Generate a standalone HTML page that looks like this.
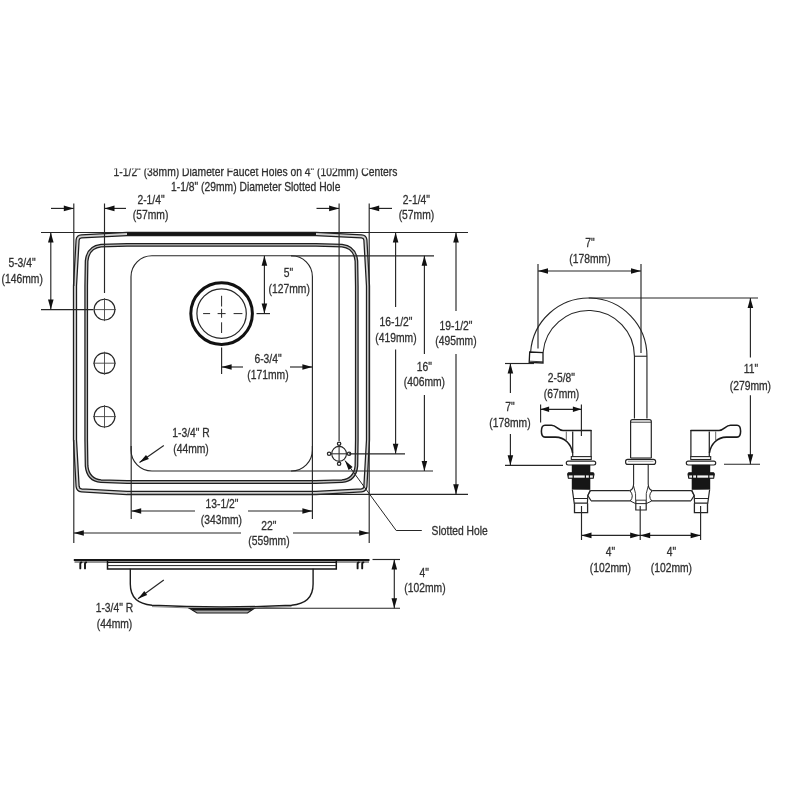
<!DOCTYPE html>
<html lang="en">
<head>
<meta charset="utf-8">
<title>Sink and faucet dimension drawing</title>
<style>
html,body{margin:0;padding:0;background:#fff;}
body{width:800px;height:800px;overflow:hidden;}
svg{display:block;}
svg text{font-family:"Liberation Sans",sans-serif;fill:#303030;stroke:#303030;stroke-width:0.3px;}
</style>
</head>
<body>
<svg width="800" height="800" viewBox="0 0 800 800" style="filter:grayscale(1)">
<defs><clipPath id="cliptop"><rect x="0" y="168.6" width="800" height="40"/></clipPath></defs>
<rect width="800" height="800" fill="#ffffff"/>
<g clip-path="url(#cliptop)">
<text transform="translate(113.6,175.5) scale(0.84,1)" text-anchor="start" font-size="12.3">1-1/2&quot; (38mm) Diameter Faucet Holes on 4&quot; (102mm) Centers</text>
</g>
<text transform="translate(171,191.1) scale(0.84,1)" text-anchor="start" font-size="12.3">1-1/8&quot; (29mm) Diameter Slotted Hole</text>
<path d="M75,286 L75,440 L77.6,486.5 Q78,490 81.5,490.4 L127,493 L316,493 L361.5,490.4 Q365,490 365.4,486.5 L368,440 L368,286 L365.4,240 Q365,236.6 361.5,236.4 L316,234 L127,234 L81.5,236.4 Q78,236.6 77.6,240 Z" fill="none" stroke="#1e1e1e" stroke-width="4.3" stroke-linejoin="round"/>
<path d="M75,286 L75,440 L77.6,486.5 Q78,490 81.5,490.4 L127,493 L316,493 L361.5,490.4 Q365,490 365.4,486.5 L368,440 L368,286 L365.4,240 Q365,236.6 361.5,236.4 L316,234 L127,234 L81.5,236.4 Q78,236.6 77.6,240 Z" fill="none" stroke="#d0d0d0" stroke-width="1.8" stroke-linejoin="round"/>
<line x1="127" y1="234" x2="316" y2="234" stroke="#151515" stroke-width="2.6" />
<path d="M86.2,286 L86.2,440 L86.6,466 Q88,480 101,481.2 L127,482 L316,482 L342,481.2 Q355,480 356.4,466 L356.8,440 L356.8,286 L356.4,261 Q355,247 342,245.6 L316,244.8 L127,244.8 L101,245.6 Q88,247 86.6,261 Z" fill="none" stroke="#1e1e1e" stroke-width="3.8" stroke-linejoin="round"/>
<path d="M86.2,286 L86.2,440 L86.6,466 Q88,480 101,481.2 L127,482 L316,482 L342,481.2 Q355,480 356.4,466 L356.8,440 L356.8,286 L356.4,261 Q355,247 342,245.6 L316,244.8 L127,244.8 L101,245.6 Q88,247 86.6,261 Z" fill="none" stroke="#bcbcbc" stroke-width="1.3" stroke-linejoin="round"/>
<rect x="131" y="255.7" width="181.4" height="215.3" rx="21" ry="21" fill="none" stroke="#262626" stroke-width="1.15"/>
<circle cx="221.6" cy="313.6" r="30.8" fill="none" stroke="#111" stroke-width="3"/>
<circle cx="221.6" cy="313.6" r="24.7" fill="none" stroke="#262626" stroke-width="1.2"/>
<line x1="203.1" y1="313.6" x2="210.1" y2="313.6" stroke="#262626" stroke-width="1.0" />
<line x1="217.6" y1="313.6" x2="225.6" y2="313.6" stroke="#262626" stroke-width="1.0" />
<line x1="233.6" y1="313.6" x2="242.4" y2="313.6" stroke="#262626" stroke-width="1.0" />
<line x1="221.6" y1="295.8" x2="221.6" y2="306.5" stroke="#262626" stroke-width="1.0" />
<line x1="221.6" y1="308.8" x2="221.6" y2="317.8" stroke="#262626" stroke-width="1.0" />
<line x1="221.6" y1="322.3" x2="221.6" y2="333.0" stroke="#262626" stroke-width="1.0" />
<circle cx="104.5" cy="309.6" r="10.4" fill="none" stroke="#262626" stroke-width="1.15"/>
<line x1="104.5" y1="298.1" x2="104.5" y2="321.1" stroke="#444" stroke-width="0.9" />
<line x1="93" y1="309.6" x2="116" y2="309.6" stroke="#444" stroke-width="0.9" />
<circle cx="104.5" cy="363.2" r="10.4" fill="none" stroke="#262626" stroke-width="1.15"/>
<line x1="104.5" y1="351.7" x2="104.5" y2="374.7" stroke="#444" stroke-width="0.9" />
<line x1="93" y1="363.2" x2="116" y2="363.2" stroke="#444" stroke-width="0.9" />
<circle cx="104.5" cy="416.6" r="10.4" fill="none" stroke="#262626" stroke-width="1.15"/>
<line x1="104.5" y1="405.1" x2="104.5" y2="428.1" stroke="#444" stroke-width="0.9" />
<line x1="93" y1="416.6" x2="116" y2="416.6" stroke="#444" stroke-width="0.9" />
<circle cx="339.1" cy="453.8" r="7.4" fill="none" stroke="#262626" stroke-width="1.1"/>
<circle cx="349.1" cy="453.8" r="1.7" fill="#fff" stroke="#262626" stroke-width="1.25"/>
<circle cx="329.1" cy="453.8" r="1.7" fill="#fff" stroke="#262626" stroke-width="1.25"/>
<circle cx="339.1" cy="463.8" r="1.7" fill="#fff" stroke="#262626" stroke-width="1.25"/>
<circle cx="339.1" cy="443.8" r="1.7" fill="#fff" stroke="#262626" stroke-width="1.25"/>
<line x1="330.1" y1="453.8" x2="348.1" y2="453.8" stroke="#333" stroke-width="1.1" />
<line x1="339.1" y1="444.8" x2="339.1" y2="462.8" stroke="#333" stroke-width="1.1" />
<line x1="73.8" y1="203.5" x2="73.8" y2="286" stroke="#262626" stroke-width="1.15" />
<line x1="73.8" y1="440" x2="73.8" y2="543" stroke="#262626" stroke-width="1.15" />
<line x1="104.5" y1="203.5" x2="104.5" y2="293" stroke="#262626" stroke-width="1.15" />
<line x1="339.1" y1="203.5" x2="339.1" y2="441" stroke="#262626" stroke-width="1.15" />
<line x1="369.2" y1="203.5" x2="369.2" y2="543" stroke="#262626" stroke-width="1.15" />
<line x1="41" y1="232.5" x2="127" y2="232.5" stroke="#262626" stroke-width="1.15" />
<line x1="316" y1="232.5" x2="468" y2="232.5" stroke="#262626" stroke-width="1.15" />
<line x1="41" y1="309.6" x2="93" y2="309.6" stroke="#262626" stroke-width="1.15" />
<line x1="291" y1="255.8" x2="434" y2="255.8" stroke="#262626" stroke-width="1.15" />
<line x1="349" y1="453.8" x2="405" y2="453.8" stroke="#262626" stroke-width="1.15" />
<line x1="291" y1="471" x2="433" y2="471" stroke="#262626" stroke-width="1.15" />
<line x1="127" y1="494.3" x2="468" y2="494.3" stroke="#262626" stroke-width="1.15" />
<line x1="131.2" y1="446" x2="131.2" y2="519" stroke="#262626" stroke-width="1.15" />
<line x1="312.4" y1="446" x2="312.4" y2="519" stroke="#262626" stroke-width="1.15" />
<line x1="256.5" y1="313.6" x2="270" y2="313.6" stroke="#262626" stroke-width="1.15" />
<line x1="221.6" y1="347.6" x2="221.6" y2="374" stroke="#262626" stroke-width="1.15" />
<line x1="51" y1="208.4" x2="73.8" y2="208.4" stroke="#262626" stroke-width="1.15" />
<polygon points="73.80,208.40 63.80,205.60 63.80,211.20" fill="#111"/>
<line x1="104.5" y1="208.4" x2="126" y2="208.4" stroke="#262626" stroke-width="1.15" />
<polygon points="104.50,208.40 114.50,205.60 114.50,211.20" fill="#111"/>
<text transform="translate(151,204.1) scale(0.84,1)" text-anchor="middle" font-size="12.3">2-1/4&quot;</text>
<text transform="translate(150.6,219.1) scale(0.84,1)" text-anchor="middle" font-size="12.3">(57mm)</text>
<line x1="316.5" y1="208.4" x2="339.1" y2="208.4" stroke="#262626" stroke-width="1.15" />
<polygon points="339.10,208.40 329.10,205.60 329.10,211.20" fill="#111"/>
<line x1="369.2" y1="208.4" x2="392" y2="208.4" stroke="#262626" stroke-width="1.15" />
<polygon points="369.20,208.40 379.20,205.60 379.20,211.20" fill="#111"/>
<text transform="translate(416.4,204.3) scale(0.84,1)" text-anchor="middle" font-size="12.3">2-1/4&quot;</text>
<text transform="translate(416.4,219.3) scale(0.84,1)" text-anchor="middle" font-size="12.3">(57mm)</text>
<line x1="50.8" y1="232.5" x2="50.8" y2="309.6" stroke="#262626" stroke-width="1.15" />
<polygon points="50.80,232.50 48.00,242.50 53.60,242.50" fill="#111"/>
<polygon points="50.80,309.60 48.00,299.60 53.60,299.60" fill="#111"/>
<text transform="translate(22,267.3) scale(0.84,1)" text-anchor="middle" font-size="12.3">5-3/4&quot;</text>
<text transform="translate(22.2,282.9) scale(0.84,1)" text-anchor="middle" font-size="12.3">(146mm)</text>
<line x1="264.4" y1="255.8" x2="264.4" y2="313.6" stroke="#262626" stroke-width="1.15" />
<polygon points="264.40,255.80 261.60,265.80 267.20,265.80" fill="#111"/>
<polygon points="264.40,313.60 261.60,303.60 267.20,303.60" fill="#111"/>
<text transform="translate(288.4,276.7) scale(0.84,1)" text-anchor="middle" font-size="12.3">5&quot;</text>
<text transform="translate(289.2,292.7) scale(0.84,1)" text-anchor="middle" font-size="12.3">(127mm)</text>
<line x1="221.6" y1="367" x2="243" y2="367" stroke="#262626" stroke-width="1.15" />
<polygon points="221.60,367.00 231.60,364.20 231.60,369.80" fill="#111"/>
<line x1="290" y1="367" x2="312.4" y2="367" stroke="#262626" stroke-width="1.15" />
<polygon points="312.40,367.00 302.40,364.20 302.40,369.80" fill="#111"/>
<text transform="translate(268,362.7) scale(0.84,1)" text-anchor="middle" font-size="12.3">6-3/4&quot;</text>
<text transform="translate(268,378.7) scale(0.84,1)" text-anchor="middle" font-size="12.3">(171mm)</text>
<line x1="395.6" y1="232.5" x2="395.6" y2="307" stroke="#262626" stroke-width="1.15" />
<polygon points="395.60,232.50 392.80,242.50 398.40,242.50" fill="#111"/>
<line x1="395.6" y1="349.6" x2="395.6" y2="453.8" stroke="#262626" stroke-width="1.15" />
<polygon points="395.60,453.80 392.80,443.80 398.40,443.80" fill="#111"/>
<text transform="translate(396,326.3) scale(0.84,1)" text-anchor="middle" font-size="12.3">16-1/2&quot;</text>
<text transform="translate(396,341.5) scale(0.84,1)" text-anchor="middle" font-size="12.3">(419mm)</text>
<line x1="424.4" y1="255.8" x2="424.4" y2="354" stroke="#262626" stroke-width="1.15" />
<polygon points="424.40,255.80 421.60,265.80 427.20,265.80" fill="#111"/>
<line x1="424.4" y1="395" x2="424.4" y2="471" stroke="#262626" stroke-width="1.15" />
<polygon points="424.40,471.00 421.60,461.00 427.20,461.00" fill="#111"/>
<text transform="translate(424.4,370.7) scale(0.84,1)" text-anchor="middle" font-size="12.3">16&quot;</text>
<text transform="translate(424.4,386.1) scale(0.84,1)" text-anchor="middle" font-size="12.3">(406mm)</text>
<line x1="456" y1="232.5" x2="456" y2="311" stroke="#262626" stroke-width="1.15" />
<polygon points="456.00,232.50 453.20,242.50 458.80,242.50" fill="#111"/>
<line x1="456" y1="354" x2="456" y2="494.3" stroke="#262626" stroke-width="1.15" />
<polygon points="456.00,494.30 453.20,484.30 458.80,484.30" fill="#111"/>
<text transform="translate(456,329.5) scale(0.84,1)" text-anchor="middle" font-size="12.3">19-1/2&quot;</text>
<text transform="translate(456,345.3) scale(0.84,1)" text-anchor="middle" font-size="12.3">(495mm)</text>
<text transform="translate(191,437.3) scale(0.84,1)" text-anchor="middle" font-size="12.3">1-3/4&quot; R</text>
<text transform="translate(191,453.3) scale(0.84,1)" text-anchor="middle" font-size="12.3">(44mm)</text>
<line x1="163.8" y1="445.5" x2="139.5" y2="462.5" stroke="#262626" stroke-width="1.15" />
<polygon points="139.5,462.5 146,454.9 148.9,459 " fill="#111"/>
<line x1="131.2" y1="511" x2="195" y2="511" stroke="#262626" stroke-width="1.15" />
<polygon points="131.20,511.00 141.20,508.20 141.20,513.80" fill="#111"/>
<line x1="248" y1="511" x2="312.4" y2="511" stroke="#262626" stroke-width="1.15" />
<polygon points="312.40,511.00 302.40,508.20 302.40,513.80" fill="#111"/>
<text transform="translate(222,508.3) scale(0.84,1)" text-anchor="middle" font-size="12.3">13-1/2&quot;</text>
<text transform="translate(221.4,524.1) scale(0.84,1)" text-anchor="middle" font-size="12.3">(343mm)</text>
<line x1="73.8" y1="533" x2="241" y2="533" stroke="#262626" stroke-width="1.15" />
<polygon points="73.80,533.00 83.80,530.20 83.80,535.80" fill="#111"/>
<line x1="293" y1="533" x2="369.2" y2="533" stroke="#262626" stroke-width="1.15" />
<polygon points="369.20,533.00 359.20,530.20 359.20,535.80" fill="#111"/>
<text transform="translate(268.8,529.8) scale(0.84,1)" text-anchor="middle" font-size="12.3">22&quot;</text>
<text transform="translate(269,544.9) scale(0.84,1)" text-anchor="middle" font-size="12.3">(559mm)</text>
<path d="M345,460.6 L396.2,530.5 L421.8,530.5" fill="none" stroke="#262626" stroke-width="1.0" />
<polygon points="345,460.6 352.6,467 348.6,470" fill="#111"/>
<text transform="translate(431.6,535.3) scale(0.84,1)" text-anchor="start" font-size="12.3">Slotted Hole</text>
<line x1="73.8" y1="560" x2="369.5" y2="560" stroke="#151515" stroke-width="2.0" />
<line x1="74.5" y1="562" x2="107.5" y2="562" stroke="#262626" stroke-width="1.0" />
<line x1="336.3" y1="562" x2="369" y2="562" stroke="#262626" stroke-width="1.0" />
<path d="M107.5,561 L107.5,568.9 L336.3,568.9 L336.3,561" fill="none" stroke="#151515" stroke-width="1.5" />
<line x1="107.5" y1="562.3" x2="336.3" y2="562.3" stroke="#151515" stroke-width="1.4" />
<line x1="107.5" y1="565.6" x2="336.3" y2="565.6" stroke="#262626" stroke-width="1.0" />
<path d="M81.5,562.4 Q80.0,562.6 80.3,565 L80.3,568.4" fill="none" stroke="#151515" stroke-width="1.9" stroke-linecap="round"/>
<path d="M86.2,562.4 Q84.7,562.6 85,565 L85,568.4" fill="none" stroke="#151515" stroke-width="1.9" stroke-linecap="round"/>
<path d="M358.8,562.4 Q357.3,562.6 357.6,565 L357.6,568.4" fill="none" stroke="#151515" stroke-width="1.9" stroke-linecap="round"/>
<path d="M363.4,562.4 Q361.9,562.6 362.2,565 L362.2,568.4" fill="none" stroke="#151515" stroke-width="1.9" stroke-linecap="round"/>
<path d="M130.3,568.8 L130.3,584 Q130.3,603.5 152,605.2 Q221.7,608.8 291.5,605.2 Q313.1,603.5 313.1,584 L313.1,568.8" fill="none" stroke="#1c1c1c" stroke-width="1.4" />
<path d="M152,606.6 Q221.7,610 291.5,606.6" fill="none" stroke="#777" stroke-width="0.9" />
<path d="M189.8,608.6 L197,613 L247.5,613 L254,608.6 Z" fill="#a8a8a8" stroke="#1c1c1c" stroke-width="1.2" />
<line x1="192.5" y1="609.7" x2="251.5" y2="609.7" stroke="#151515" stroke-width="1.8" />
<line x1="372.5" y1="559.5" x2="400" y2="559.5" stroke="#262626" stroke-width="1.15" />
<line x1="250" y1="608.2" x2="400" y2="608.2" stroke="#262626" stroke-width="1.15" />
<line x1="394.3" y1="559.5" x2="394.3" y2="608.2" stroke="#262626" stroke-width="1.15" />
<polygon points="394.30,559.50 391.50,569.50 397.10,569.50" fill="#111"/>
<polygon points="394.30,608.20 391.50,598.20 397.10,598.20" fill="#111"/>
<text transform="translate(424.3,576.6) scale(0.84,1)" text-anchor="middle" font-size="12.3">4&quot;</text>
<text transform="translate(425,592.3) scale(0.84,1)" text-anchor="middle" font-size="12.3">(102mm)</text>
<line x1="163.8" y1="580" x2="138" y2="598.8" stroke="#262626" stroke-width="1.15" />
<polygon points="138,598.8 144.3,590.9 147.2,595" fill="#111"/>
<text transform="translate(114.4,611.6) scale(0.84,1)" text-anchor="middle" font-size="12.3">1-3/4&quot; R</text>
<text transform="translate(114.5,627.8) scale(0.84,1)" text-anchor="middle" font-size="12.3">(44mm)</text>
<path d="M530.59,352.2 A58.25,58.25 0 0 1 646.95,356.25 L646.95,418.5" fill="none" stroke="#262626" stroke-width="1.15" />
<path d="M543.13,352.2 A45.75,45.75 0 0 1 634.45,356.25 L634.45,418.5" fill="none" stroke="#262626" stroke-width="1.15" />
<line x1="634.45" y1="356.25" x2="646.95" y2="356.25" stroke="#262626" stroke-width="1.1" />
<path d="M529.7,352 L543,352.7 L543,363 L529.2,362.4 Z" fill="#fff" stroke="#1a1a1a" stroke-width="1.3" />
<line x1="529.3" y1="361.2" x2="543" y2="361.8" stroke="#262626" stroke-width="0.9" />
<path d="M630.6,458 L630.6,421.5 Q630.6,419.6 632.5,419.6 L649.4,419.6 Q651.3,419.6 651.3,421.5 L651.3,458" fill="none" stroke="#262626" stroke-width="1.2" />
<line x1="630.6" y1="422.2" x2="651.3" y2="422.2" stroke="#262626" stroke-width="0.9" />
<line x1="630.6" y1="458" x2="651.3" y2="458" stroke="#262626" stroke-width="1.1" />
<rect x="625.6" y="459.4" width="30" height="5" rx="2.2" fill="#fff" stroke="#262626" stroke-width="1.2"/>
<line x1="628" y1="461.2" x2="653.5" y2="461.2" stroke="#777" stroke-width="0.8" />
<path d="M633.6,464.4 L633.6,484 Q633.4,489.5 629.8,490.6" fill="none" stroke="#262626" stroke-width="1.1" />
<path d="M648.2,464.4 L648.2,484 Q648.4,489.5 652.2,490.6" fill="none" stroke="#262626" stroke-width="1.1" />
<path d="M629.8,490.6 Q634.5,495.8 630.3,501" fill="none" stroke="#262626" stroke-width="1.0" />
<path d="M652.2,490.6 Q647.5,495.8 651.7,501" fill="none" stroke="#262626" stroke-width="1.0" />
<path d="M633.6,486 Q636.5,494 635.6,500.3" fill="none" stroke="#262626" stroke-width="0.9" />
<path d="M648.2,486 Q645.3,494 646.3,500.3" fill="none" stroke="#262626" stroke-width="0.9" />
<path d="M630.3,501 L635.6,503.6 L646.3,503.6 L651.7,501" fill="none" stroke="#262626" stroke-width="1.0" />
<path d="M635.8,500.2 L635.8,510 L646.2,510 L646.2,500.2" fill="none" stroke="#262626" stroke-width="1.2" />
<line x1="635.8" y1="500.2" x2="646.2" y2="500.2" stroke="#262626" stroke-width="0.9" />
<line x1="590.6" y1="490.6" x2="629.8" y2="490.6" stroke="#262626" stroke-width="1.15" />
<line x1="591" y1="500.8" x2="630.3" y2="500.8" stroke="#262626" stroke-width="1.15" />
<path d="M572.7,457 L572.7,431.5 M591.1,457 L591.1,430.5" fill="none" stroke="#262626" stroke-width="1.25" />
<path d="M591.1,430.5 L563,430.5 C558,430.5 556.5,425.3 551.5,425.3 L545,425.3 C540.2,425.3 540.2,437.1 545,437.1 L555.5,437.1 C565,437.3 571,444 572.5,452.5" fill="none" stroke="#1a1a1a" stroke-width="1.55" stroke-linecap="round"/>
<line x1="566.3" y1="431.5" x2="566.3" y2="440.2" stroke="#555" stroke-width="0.9" />
<rect x="571.3" y="456.6" width="20" height="2.9" fill="#fff" stroke="#262626" stroke-width="1.1"/>
<rect x="566.3" y="461.2" width="29.4" height="3.8" rx="1.9" fill="#fff" stroke="#262626" stroke-width="1.2"/>
<rect x="571.8" y="464.8" width="18.5" height="25" fill="#161616"/>
<path d="M568.4,472.7 L593.2,472.7 L594.0,474 L593.2,478.3 L568.4,478.3 L567.6,474 Z" fill="#161616" stroke="#161616" stroke-width="1.1" stroke-linejoin="round"/>
<rect x="568.8000000000001" y="475.4" width="24" height="2.3" fill="#f4f4f4"/>
<line x1="573.2" y1="475" x2="573.2" y2="478.3" stroke="#161616" stroke-width="1.2" />
<line x1="585.4" y1="475" x2="585.4" y2="478.3" stroke="#161616" stroke-width="1.2" />
<line x1="589.4" y1="475" x2="589.4" y2="478.3" stroke="#161616" stroke-width="1.2" />
<path d="M572.4,489.8 L574.2,503.2 L587.4,503.2 L587.8,495.6 L590.3,490" fill="#fff" stroke="#262626" stroke-width="1.2" />
<line x1="573.6" y1="498.5" x2="587.6" y2="498.5" stroke="#262626" stroke-width="1.0" />
<path d="M574.5,503.2 L574.5,512.6 L587.6,512.6 L587.6,503.2" fill="none" stroke="#262626" stroke-width="1.3" />
<path d="M590.6,490.6 L587.8,495.6 L591,500.6" fill="none" stroke="#262626" stroke-width="1.1" />
<line x1="691.4" y1="490.6" x2="652.2" y2="490.6" stroke="#262626" stroke-width="1.15" />
<line x1="691.0" y1="500.8" x2="651.7" y2="500.8" stroke="#262626" stroke-width="1.15" />
<path d="M709.3,457 L709.3,431.5 M690.9,457 L690.9,430.5" fill="none" stroke="#262626" stroke-width="1.25" />
<path d="M690.9,430.5 L719.0,430.5 C724.0,430.5 725.5,425.3 730.5,425.3 L737.0,425.3 C741.8,425.3 741.8,437.1 737.0,437.1 L726.5,437.1 C717.0,437.3 711.0,444 709.5,452.5" fill="none" stroke="#1a1a1a" stroke-width="1.55" stroke-linecap="round"/>
<line x1="715.7" y1="431.5" x2="715.7" y2="440.2" stroke="#555" stroke-width="0.9" />
<rect x="690.7" y="456.6" width="20" height="2.9" fill="#fff" stroke="#262626" stroke-width="1.1"/>
<rect x="686.3" y="461.2" width="29.4" height="3.8" rx="1.9" fill="#fff" stroke="#262626" stroke-width="1.2"/>
<rect x="691.7" y="464.8" width="18.5" height="25" fill="#161616"/>
<path d="M688.8,472.7 L713.6,472.7 L714.4,474 L713.6,478.3 L688.8,478.3 L688.0,474 Z" fill="#161616" stroke="#161616" stroke-width="1.1" stroke-linejoin="round"/>
<rect x="689.2" y="475.4" width="24" height="2.3" fill="#f4f4f4"/>
<line x1="708.8" y1="475" x2="708.8" y2="478.3" stroke="#161616" stroke-width="1.2" />
<line x1="696.6" y1="475" x2="696.6" y2="478.3" stroke="#161616" stroke-width="1.2" />
<line x1="692.6" y1="475" x2="692.6" y2="478.3" stroke="#161616" stroke-width="1.2" />
<path d="M709.6,489.8 L707.8,503.2 L694.6,503.2 L694.2,495.6 L691.7,490" fill="#fff" stroke="#262626" stroke-width="1.2" />
<line x1="708.4" y1="498.5" x2="694.4" y2="498.5" stroke="#262626" stroke-width="1.0" />
<path d="M707.5,503.2 L707.5,512.6 L694.4,512.6 L694.4,503.2" fill="none" stroke="#262626" stroke-width="1.3" />
<path d="M691.4,490.6 L694.2,495.6 L691.0,500.6" fill="none" stroke="#262626" stroke-width="1.1" />
<line x1="538" y1="264" x2="538" y2="348.5" stroke="#262626" stroke-width="1.15" />
<line x1="641" y1="264" x2="641" y2="353" stroke="#262626" stroke-width="1.15" />
<line x1="538" y1="271" x2="641" y2="271" stroke="#262626" stroke-width="1.15" />
<polygon points="538.00,271.00 548.00,268.20 548.00,273.80" fill="#111"/>
<polygon points="641.00,271.00 631.00,268.20 631.00,273.80" fill="#111"/>
<text transform="translate(590,246.7) scale(0.84,1)" text-anchor="middle" font-size="12.3">7&quot;</text>
<text transform="translate(590,262.7) scale(0.84,1)" text-anchor="middle" font-size="12.3">(178mm)</text>
<line x1="588.7" y1="298" x2="758" y2="298" stroke="#262626" stroke-width="1.15" />
<line x1="724" y1="464.2" x2="760" y2="464.2" stroke="#262626" stroke-width="1.15" />
<line x1="750.4" y1="298" x2="750.4" y2="357.5" stroke="#262626" stroke-width="1.15" />
<polygon points="750.40,298.00 747.60,308.00 753.20,308.00" fill="#111"/>
<line x1="750.4" y1="395.2" x2="750.4" y2="464.2" stroke="#262626" stroke-width="1.15" />
<polygon points="750.40,464.20 747.60,454.20 753.20,454.20" fill="#111"/>
<text transform="translate(751,373.3) scale(0.84,1)" text-anchor="middle" font-size="12.3">11&quot;</text>
<text transform="translate(750.4,389.6) scale(0.84,1)" text-anchor="middle" font-size="12.3">(279mm)</text>
<line x1="505" y1="363.5" x2="534" y2="363.5" stroke="#262626" stroke-width="1.15" />
<line x1="505" y1="465.3" x2="563" y2="465.3" stroke="#262626" stroke-width="1.15" />
<line x1="510.4" y1="363.5" x2="510.4" y2="393" stroke="#262626" stroke-width="1.15" />
<polygon points="510.40,363.50 507.60,373.50 513.20,373.50" fill="#111"/>
<line x1="510.4" y1="434" x2="510.4" y2="465.3" stroke="#262626" stroke-width="1.15" />
<polygon points="510.40,465.30 507.60,455.30 513.20,455.30" fill="#111"/>
<text transform="translate(510,410.7) scale(0.84,1)" text-anchor="middle" font-size="12.3">7&quot;</text>
<text transform="translate(510,426.7) scale(0.84,1)" text-anchor="middle" font-size="12.3">(178mm)</text>
<line x1="540.6" y1="404.4" x2="540.6" y2="422.5" stroke="#262626" stroke-width="1.15" />
<line x1="581.4" y1="404.4" x2="581.4" y2="436" stroke="#262626" stroke-width="1.15" />
<line x1="540.6" y1="409.3" x2="581.4" y2="409.3" stroke="#262626" stroke-width="1.15" />
<polygon points="540.60,409.30 549.10,406.50 549.10,412.10" fill="#111"/>
<polygon points="581.40,409.30 572.90,406.50 572.90,412.10" fill="#111"/>
<text transform="translate(561.3,381.8) scale(0.84,1)" text-anchor="middle" font-size="12.3">2-5/8&quot;</text>
<text transform="translate(561.5,398.3) scale(0.84,1)" text-anchor="middle" font-size="12.3">(67mm)</text>
<line x1="581.5" y1="506" x2="581.5" y2="540" stroke="#262626" stroke-width="1.15" />
<line x1="640.2" y1="506" x2="640.2" y2="540" stroke="#262626" stroke-width="1.15" />
<line x1="700.6" y1="506" x2="700.6" y2="540" stroke="#262626" stroke-width="1.15" />
<line x1="581.5" y1="535.4" x2="700.6" y2="535.4" stroke="#262626" stroke-width="1.15" />
<polygon points="581.50,535.40 591.50,532.60 591.50,538.20" fill="#111"/>
<polygon points="640.20,535.40 630.20,532.60 630.20,538.20" fill="#111"/>
<polygon points="640.20,535.40 650.20,532.60 650.20,538.20" fill="#111"/>
<polygon points="700.60,535.40 690.60,532.60 690.60,538.20" fill="#111"/>
<text transform="translate(610.4,556.3) scale(0.84,1)" text-anchor="middle" font-size="12.3">4&quot;</text>
<text transform="translate(610.4,572.3) scale(0.84,1)" text-anchor="middle" font-size="12.3">(102mm)</text>
<text transform="translate(671.4,556.3) scale(0.84,1)" text-anchor="middle" font-size="12.3">4&quot;</text>
<text transform="translate(671.4,572.3) scale(0.84,1)" text-anchor="middle" font-size="12.3">(102mm)</text>
</svg>
</body>
</html>
